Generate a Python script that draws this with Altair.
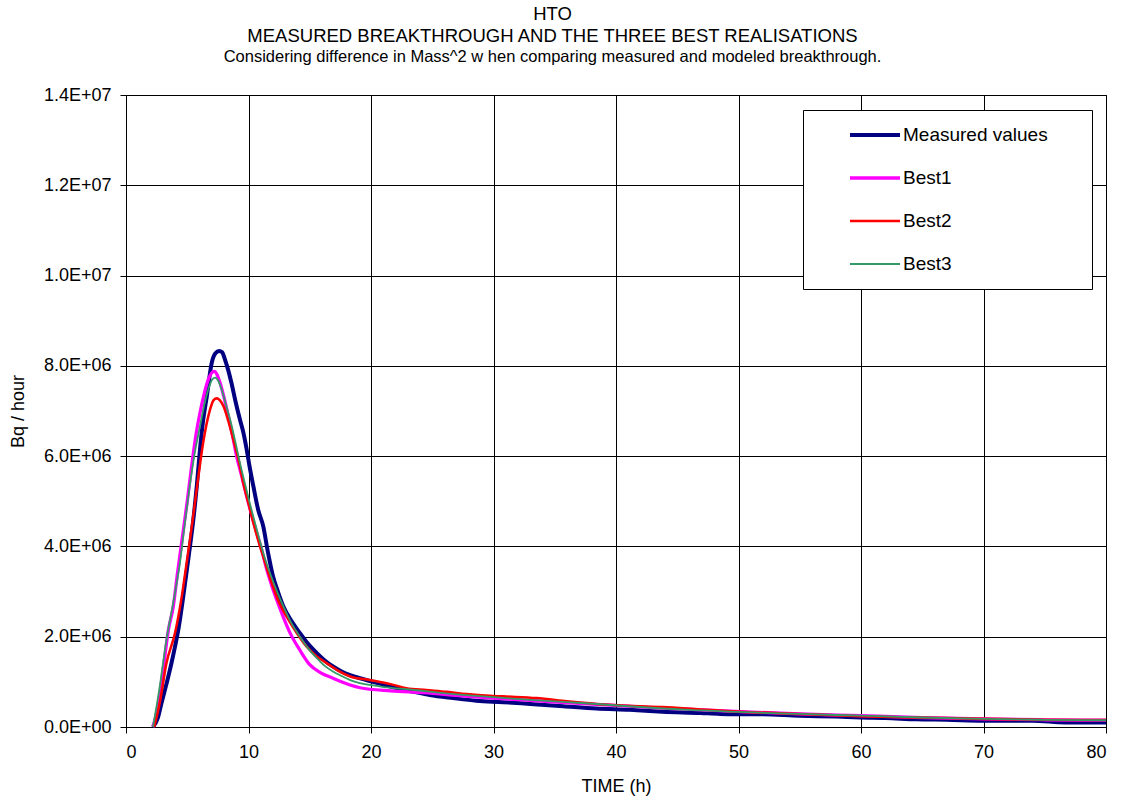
import altair as alt
import pandas as pd

# ---------------- data ----------------
series_names = ["Measured values", "Best1", "Best2", "Best3"]
series_colors = ["#000080", "#FF00FF", "#FF0000", "#339966"]
series_widths = [4, 1.8, 1.8, 1.8]

measured_t = [2.2, 2.6, 2.9, 3.3, 3.7, 4.0, 4.3, 4.68, 5.1, 5.5, 5.8, 6.04, 6.3, 6.6,
              7.0, 7.3, 7.6, 7.85, 8.08, 8.35, 8.6, 8.95, 9.3, 9.6, 9.85, 10.1, 10.4, 10.8,
              11.2, 11.6, 12.0, 12.4, 12.85, 13.5, 14.2, 14.9, 15.6, 16.2, 16.9, 17.6, 18.3,
              19.1, 19.9, 21.0, 22.1, 23.5, 24.8, 26.7, 28.6, 30.8, 33.0, 35.7, 38.4, 41.1,
              43.8, 46.9, 48.5, 52.0, 55.0, 58.0, 60.0, 62.0, 64.5, 67.0, 70.0, 74.0, 76.7, 80.0]
measured_v = [0, 0.20e6, 0.53e6, 0.95e6, 1.40e6, 1.78e6, 2.20e6, 2.90e6, 3.75e6, 4.60e6,
              5.40e6, 6.15e6, 6.80e6, 7.33e6, 8.07e6, 8.28e6, 8.33e6, 8.30e6, 8.14e6, 7.90e6,
              7.63e6, 7.20e6, 6.81e6, 6.50e6, 6.15e6, 5.75e6, 5.33e6, 4.80e6, 4.45e6, 3.85e6,
              3.34e6, 3.00e6, 2.67e6, 2.35e6, 2.08e6, 1.83e6, 1.63e6, 1.48e6, 1.34e6, 1.23e6,
              1.15e6, 1.08e6, 1.02e6, 0.94e6, 0.86e6, 0.78e6, 0.71e6, 0.64e6, 0.58e6, 0.55e6,
              0.51e6, 0.46e6, 0.41e6, 0.38e6, 0.34e6, 0.31e6, 0.29e6, 0.28e6, 0.25e6, 0.23e6,
              0.21e6, 0.20e6, 0.17e6, 0.16e6, 0.14e6, 0.14e6, 0.10e6, 0.10e6]

best1_t = [2.2, 2.6, 3.0, 3.46, 3.86, 4.2, 4.54, 5.0, 5.36, 5.7, 6.04, 6.4, 6.72, 7.2, 7.67,
           8.0, 8.35, 8.7, 9.03, 9.45, 9.85, 10.25, 10.67, 11.1, 11.5, 11.9, 12.3, 12.85, 13.4,
           14.2, 15.0, 15.9, 16.9, 18.3, 19.1, 21.6, 24.3, 27.5, 30.0, 33.0, 38.4, 43.8, 49.3,
           55.0, 60.0, 65.0, 70.0, 75.0, 80.0]
best1_v = [0, 0.45e6, 1.20e6, 2.15e6, 2.67e6, 3.40e6, 4.08e6, 5.00e6, 5.78e6, 6.45e6, 6.96e6,
           7.40e6, 7.70e6, 7.88e6, 7.63e6, 7.30e6, 6.89e6, 6.45e6, 6.00e6, 5.55e6, 5.11e6,
           4.70e6, 4.30e6, 3.90e6, 3.48e6, 3.13e6, 2.82e6, 2.43e6, 2.08e6, 1.70e6, 1.38e6,
           1.20e6, 1.08e6, 0.93e6, 0.87e6, 0.80e6, 0.76e6, 0.69e6, 0.64e6, 0.59e6, 0.50e6,
           0.42e6, 0.35e6, 0.29e6, 0.25e6, 0.21e6, 0.18e6, 0.16e6, 0.15e6]

best2_t = [2.3, 2.8, 3.3, 4.0, 4.5, 4.95, 5.4, 5.77, 6.3, 6.86, 7.15, 7.4, 7.65, 7.95, 8.35,
           8.76, 9.2, 9.58, 10.0, 10.4, 10.8, 11.2, 11.6, 12.0, 12.5, 13.1, 13.9, 14.75, 15.5,
           16.4, 17.3, 18.3, 19.9, 21.6, 22.9, 24.5, 26.2, 27.8, 29.7, 31.5, 33.5, 36.0, 38.4,
           41.0, 43.8, 46.9, 50.1, 55.0, 59.9, 64.0, 67.0, 70.0, 75.0, 80.0]
best2_v = [0, 0.60e6, 1.41e6, 2.08e6, 2.80e6, 3.63e6, 4.50e6, 5.26e6, 6.30e6, 7.03e6, 7.24e6,
           7.28e6, 7.24e6, 7.11e6, 6.78e6, 6.37e6, 5.90e6, 5.40e6, 4.95e6, 4.52e6, 4.13e6,
           3.78e6, 3.43e6, 3.11e6, 2.75e6, 2.45e6, 2.10e6, 1.78e6, 1.58e6, 1.41e6, 1.25e6,
           1.12e6, 1.04e6, 0.95e6, 0.86e6, 0.82e6, 0.78e6, 0.73e6, 0.69e6, 0.67e6, 0.64e6,
           0.57e6, 0.51e6, 0.47e6, 0.44e6, 0.39e6, 0.34e6, 0.29e6, 0.24e6, 0.21e6, 0.20e6,
           0.18e6, 0.16e6, 0.155e6]

best3_t = [2.2, 2.7, 3.3, 3.85, 4.4, 4.8, 5.2, 5.6, 6.04, 6.4, 6.72, 7.0, 7.27, 7.55, 7.8,
           8.15, 8.5, 8.9, 9.3, 9.7, 10.1, 10.5, 10.9, 11.3, 11.75, 12.3, 12.85, 13.5, 14.2,
           14.9, 15.6, 16.2, 16.9, 17.6, 18.3, 20.7, 23.5, 27.5, 30.0, 33.0, 36.0, 38.4, 41.0,
           43.8, 46.9, 49.3, 55.0, 60.0, 65.0, 70.0, 75.0, 80.0]
best3_v = [0, 0.80e6, 1.93e6, 2.75e6, 3.63e6, 4.50e6, 5.33e6, 6.05e6, 6.66e6, 7.15e6, 7.48e6,
           7.68e6, 7.74e6, 7.66e6, 7.48e6, 7.15e6, 6.81e6, 6.35e6, 5.85e6, 5.40e6, 4.96e6,
           4.55e6, 4.15e6, 3.77e6, 3.41e6, 3.02e6, 2.67e6, 2.30e6, 2.00e6, 1.73e6, 1.52e6,
           1.36e6, 1.23e6, 1.13e6, 1.04e6, 0.90e6, 0.82e6, 0.71e6, 0.66e6, 0.60e6, 0.55e6,
           0.51e6, 0.46e6, 0.41e6, 0.37e6, 0.34e6, 0.29e6, 0.25e6, 0.21e6, 0.18e6, 0.16e6,
           0.15e6]

x_ticks = [0, 10, 20, 30, 40, 50, 60, 70, 80]
y_ticks = [0, 2e6, 4e6, 6e6, 8e6, 10e6, 12e6, 14e6]
y_tick_labels = ["0.0E+00", "2.0E+06", "4.0E+06", "6.0E+06", "8.0E+06",
                 "1.0E+07", "1.2E+07", "1.4E+07"]

title_lines = ["HTO",
               "MEASURED BREAKTHROUGH AND THE THREE BEST REALISATIONS"]
subtitle_line = "Considering difference in Mass^2 w hen comparing measured and modeled breakthrough."

# ---------------- table ----------------
frames = []
for name, t, v in zip(series_names,
                      [measured_t, best1_t, best2_t, best3_t],
                      [measured_v, best1_v, best2_v, best3_v]):
    frames.append(pd.DataFrame({"time": t, "value": v, "series": name}))
df = pd.concat(frames, ignore_index=True)

FONT = "Liberation Sans"
label_expr = "[" + ",".join("'" + s + "'" for s in y_tick_labels) + "][round(datum.value / 2000000)]"

legend = alt.Legend(
    title="\u2003", titleOrient="right", titlePadding=29, titleFontSize=19,
    orient="none", legendX=677, legendY=15,
    strokeColor="black", fillColor="white", padding=15, cornerRadius=0,
    symbolType="stroke", symbolSize=2500, symbolOffset=30,
    clipHeight=20, rowPadding=23,
    labelFont=FONT, labelFontSize=19, labelColor="black", labelOffset=1,
)

color = alt.Color("series:N", scale=alt.Scale(domain=series_names, range=series_colors),
                  legend=legend)
width = alt.StrokeWidth("series:N", scale=alt.Scale(domain=series_names, range=series_widths),
                        legend=legend)

x_enc = alt.X("time:Q", scale=alt.Scale(domain=[0, 80], nice=False),
              axis=alt.Axis(values=x_ticks, title="TIME (h)", titleX=490, titleY=59,
                            titleBaseline="middle", labelPadding=10))
y_enc = alt.Y("value:Q", scale=alt.Scale(domain=[0, 14e6], nice=False),
              axis=alt.Axis(values=y_ticks, labelExpr=label_expr, title="Bq / hour",
                            titleX=-108, titleY=316, titleAlign="center",
                            titleBaseline="middle", titleAngle=-90, labelPadding=9))

layers = []
for name in series_names:
    layers.append(
        alt.Chart(df).transform_filter(alt.datum.series == name)
        .mark_line(interpolate="monotone", strokeJoin="round")
        .encode(x=x_enc, y=y_enc, color=color, strokeWidth=width)
    )

chart = alt.layer(*layers).properties(
    width=980, height=632,
    background="white",
    title=alt.Title(title_lines, subtitle=subtitle_line,
                    fontSize=18.5, fontWeight="normal", font=FONT, color="black",
                    lineHeight=22, subtitleFontSize=16.5, subtitleFont=FONT,
                    subtitleColor="black", subtitleLineHeight=22, subtitlePadding=3,
                    anchor="middle", frame="bounds", offset=21, dx=-6),
    autosize=alt.AutoSizeParams(type="none"),
    padding={"left": 126, "top": 95, "right": 17, "bottom": 71},
).configure_axis(
    grid=True, gridColor="black", gridOpacity=1, gridWidth=1,
    domainColor="black", domainWidth=1, tickColor="black", tickSize=6, tickWidth=1,
    labelFont=FONT, labelFontSize=18, labelColor="black",
    titleFont=FONT, titleFontSize=18, titleFontWeight="normal", titleColor="black",
).configure_view(stroke="black", strokeWidth=1)

chart.save("out.html", embed_options={"renderer": "svg", "actions": False})
